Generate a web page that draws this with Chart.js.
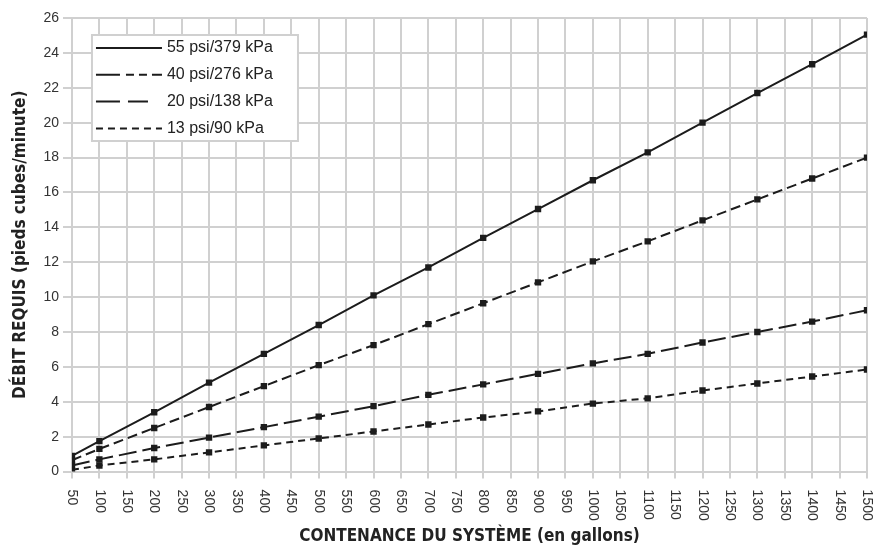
<!DOCTYPE html>
<html>
<head>
<meta charset="utf-8">
<script src="https://cdn.jsdelivr.net/npm/chart.js@4"></script>
<style>
  html, body { margin: 0; padding: 0; background: #fff; }
  #wrap { width: 876px; height: 549px; }
</style>
</head>
<body>
<div id="wrap"><canvas id="debit"></canvas></div>
<script>
const gallons = [50, 100, 200, 300, 400, 500, 600, 700, 800, 900, 1000, 1100, 1200, 1300, 1400, 1500];
const psi55 = [0.9, 1.75, 3.4, 5.1, 6.75, 8.4, 10.1, 11.7, 13.4, 15.05, 16.7, 18.3, 20.0, 21.7, 23.35, 25.05];
const psi40 = [0.65, 1.3, 2.5, 3.7, 4.9, 6.1, 7.25, 8.45, 9.65, 10.85, 12.05, 13.2, 14.4, 15.6, 16.8, 18.0];
const psi20 = [0.35, 0.7, 1.35, 1.95, 2.55, 3.15, 3.75, 4.4, 5.0, 5.6, 6.2, 6.75, 7.4, 8.0, 8.6, 9.25];
const psi13 = [0.1, 0.35, 0.7, 1.1, 1.5, 1.9, 2.3, 2.7, 3.1, 3.45, 3.9, 4.2, 4.65, 5.05, 5.45, 5.85];
const seriesLabels = ["55 psi/379 kPa", "40 psi/276 kPa", "20 psi/138 kPa", "13 psi/90 kPa"];
const xTickLabels = ["50","100","150","200","250","300","350","400","450","500","550","600","650","700","750",
  "800","850","900","950","1000","1050","1100","1150","1200","1250","1300","1350","1400","1450","1500"];

const ink = '#1c1c1c';
const gridGray = '#d0d0d0';
const lineDashes = [[], [10, 5], [18, 6], [7, 5]];
const legendDashes = [[], [24, 6, 8, 5, 8, 5], [24, 8, 20, 100], [7, 5]];
const narrow = '"DejaVu Sans Condensed", "Liberation Sans Narrow", "Roboto Condensed", "Liberation Sans", Arial, sans-serif';

function pts(ys) {
  return gallons.map((g, i) => ({ x: g, y: ys[i] }));
}

function makeSet(label, ys, dash) {
  return {
    label: label,
    data: pts(ys),
    borderColor: ink,
    backgroundColor: ink,
    borderWidth: 2,
    borderDash: dash,
    pointStyle: 'rect',
    pointRadius: 4.5,
    pointBorderWidth: 0,
    tension: 0
  };
}

// labels on the x axis read top to bottom, so they are drawn here
const xLabelsPlugin = {
  id: 'xLabelsDown',
  afterDraw: chart => {
    const { ctx, chartArea, scales } = chart;
    ctx.save();
    ctx.fillStyle = '#333';
    ctx.font = '14px "Liberation Sans", Arial, sans-serif';
    ctx.textAlign = 'left';
    ctx.textBaseline = 'middle';
    xTickLabels.forEach(lab => {
      const x = scales.x.getPixelForValue(Number(lab));
      ctx.save();
      ctx.translate(x, chartArea.bottom + 18);
      ctx.rotate(Math.PI / 2);
      ctx.fillText(lab, 0, 0);
      ctx.restore();
    });
    ctx.restore();
  }
};

const legendBoxPlugin = {
  id: 'legendBox',
  afterDraw: chart => {
    const { ctx, chartArea } = chart;
    const left = chartArea.left + 20;
    const top = chartArea.top + 17;
    const w = 206, h = 106;
    ctx.save();
    ctx.fillStyle = '#fff';
    ctx.fillRect(left, top, w, h);
    ctx.strokeStyle = gridGray;
    ctx.lineWidth = 2;
    ctx.strokeRect(left, top, w, h);
    ctx.font = '16px "Liberation Sans", Arial, sans-serif';
    ctx.textBaseline = 'middle';
    ctx.textAlign = 'left';
    seriesLabels.forEach((lab, i) => {
      const y = top + 13 + i * 26.8;
      ctx.strokeStyle = ink;
      ctx.lineWidth = 2;
      ctx.setLineDash(legendDashes[i]);
      ctx.beginPath();
      ctx.moveTo(left + 4, y);
      ctx.lineTo(left + 70, y);
      ctx.stroke();
      ctx.setLineDash([]);
      ctx.fillStyle = '#222';
      ctx.fillText(lab, left + 75, y);
    });
    ctx.restore();
  }
};

new Chart('debit', {
  type: 'line',
  data: {
    datasets: [
      makeSet(seriesLabels[0], psi55, lineDashes[0]),
      makeSet(seriesLabels[1], psi40, lineDashes[1]),
      makeSet(seriesLabels[2], psi20, lineDashes[2]),
      makeSet(seriesLabels[3], psi13, lineDashes[3])
    ]
  },
  options: {
    responsive: true,
    maintainAspectRatio: false,
    animation: false,
    layout: { padding: { top: 18, right: 9, left: 10, bottom: 0 } },
    plugins: {
      legend: { display: false },
      tooltip: { enabled: false }
    },
    scales: {
      x: {
        type: 'linear',
        min: 50,
        max: 1500,
        grid: { color: gridGray, lineWidth: 2, tickLength: 7 },
        border: { color: gridGray, width: 2 },
        ticks: { display: false, stepSize: 50 },
        afterBuildTicks: scale => {
          scale.ticks = xTickLabels.map(v => ({ value: Number(v) }));
        },
        title: {
          display: true,
          text: 'CONTENANCE DU SYSTÈME (en gallons)',
          color: '#222',
          font: { family: narrow, size: 17, weight: 'bold' },
          padding: { top: 48, bottom: 2 }
        }
      },
      y: {
        min: 0,
        max: 26,
        grid: { color: gridGray, lineWidth: 2, tickLength: 9 },
        border: { color: gridGray, width: 2 },
        ticks: {
          stepSize: 2,
          color: '#333',
          padding: 4,
          font: { family: '"Liberation Sans", Arial, sans-serif', size: 14 }
        },
        title: {
          display: true,
          text: 'DÉBIT REQUIS (pieds cubes/minute)',
          color: '#222',
          font: { family: narrow, size: 17, weight: 'bold' },
          padding: { top: 0, bottom: 9 }
        }
      }
    }
  },
  plugins: [xLabelsPlugin, legendBoxPlugin]
});
</script>
</body>
</html>
